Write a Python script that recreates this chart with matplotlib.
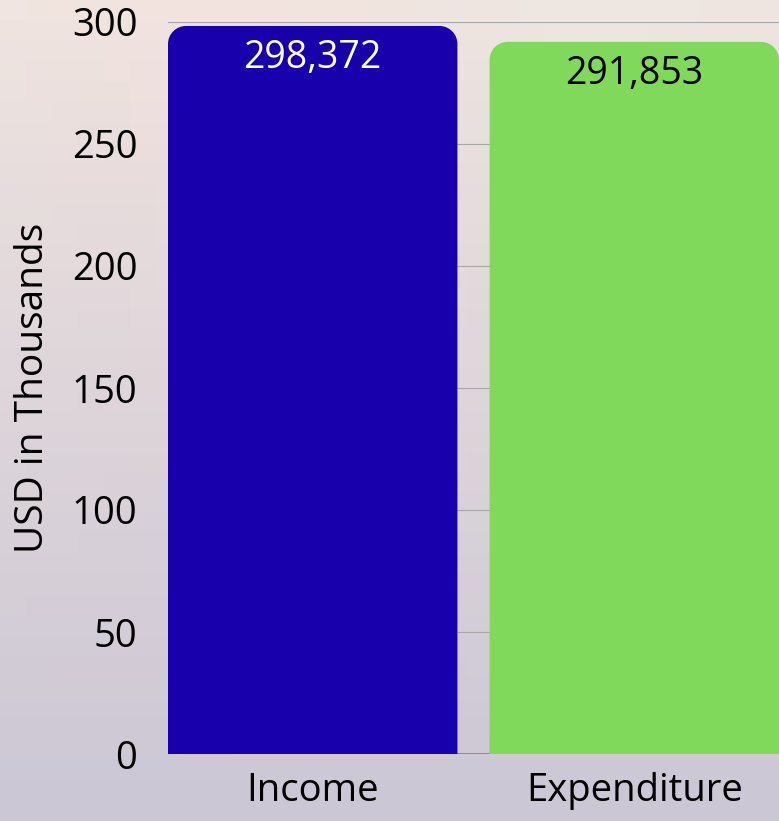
import matplotlib
matplotlib.use("Agg")
import matplotlib.pyplot as plt
import numpy as np
from matplotlib.path import Path
from matplotlib.patches import PathPatch

categories = ["Income", "Expenditure"]
values = [298.372, 291.853]
value_labels = ["298,372", "291,853"]
bar_colors = ["#1800ac", "#80d95a"]
label_colors = ["white", "black"]
yticks = [0, 50, 100, 150, 200, 250, 300]

plt.rcParams['font.family'] = ['Open Sans', 'DejaVu Sans']

W, H = 779, 821
fig = plt.figure(figsize=(W / 100, H / 100), dpi=100)

# background gradient
bg = fig.add_axes([0, 0, 1, 1], zorder=-10)
ny, nx = 40, 30
yy = np.linspace(0, 1, ny)[:, None]
xx = np.linspace(0, 1, nx)[None, :]
top = np.array([240, 229, 224]) / 255
bot = np.array([204, 199, 213]) / 255
t = np.clip(yy ** 0.9, 0, 1)
img = top[None, None, :] * (1 - t[..., None]) + bot[None, None, :] * t[..., None]
img = img + (0.01 * np.sin(xx * 6.0))[..., None] * (1 - t[..., None]) * np.array([1, -0.5, -0.5])
img = np.clip(img, 0, 1)
bg.imshow(np.broadcast_to(img, (ny, nx, 3)), aspect='auto', interpolation='nearest',
          extent=[0, 1, 0, 1])
bg.axis('off')

left, right = 168 / W, 1.0
bottom, topy = (H - 754) / H, (H - 22) / H
ax = fig.add_axes([left, bottom, right - left, topy - bottom])
ax.patch.set_alpha(0)
x = np.arange(len(categories))
ax.set_xlim(-0.45, 1.45)
ax.set_ylim(0, 300)

bw = 0.9
xu = (1.9) / (W * (right - left))
yu = 300 / (754 - 22)
r = 18


def rounded_top_bar(xc, h, w):
    x0, x1 = xc - w / 2, xc + w / 2
    rx, ry = r * xu, r * yu
    k = 0.5523
    verts = [(x0, 0), (x0, h - ry),
             (x0, h - ry + k * ry), (x0 + rx - k * rx, h), (x0 + rx, h),
             (x1 - rx, h),
             (x1 - rx + k * rx, h), (x1, h - ry + k * ry), (x1, h - ry),
             (x1, 0), (x0, 0)]
    codes = [Path.MOVETO, Path.LINETO,
             Path.CURVE4, Path.CURVE4, Path.CURVE4,
             Path.LINETO,
             Path.CURVE4, Path.CURVE4, Path.CURVE4,
             Path.LINETO, Path.CLOSEPOLY]
    return Path(verts, codes)


for i, (v, c) in enumerate(zip(values, bar_colors)):
    p = PathPatch(rounded_top_bar(x[i], v, bw), facecolor=c, edgecolor='none', zorder=3)
    ax.add_patch(p)
    ax.annotate(value_labels[i], (x[i], v), xytext=(0, -32), textcoords='offset pixels',
                ha='center', va='center', fontsize=27, color=label_colors[i], zorder=4)

ax.set_yticks(yticks)
ax.set_xticks(x)
ax.set_xticklabels(categories)
ax.tick_params(axis='both', length=0, labelsize=27.5)
ax.tick_params(axis='y', pad=22)
ax.tick_params(axis='x', pad=13)
ax.grid(axis='y', color='#a8a8a8', linewidth=0.8, zorder=0)
ax.set_axisbelow(True)
for s in ax.spines.values():
    s.set_visible(False)
ax.axhline(0, color='#808080', linewidth=1.2, zorder=1)
ax.set_ylabel("USD in Thousands", fontsize=28, labelpad=14)

fig.savefig("out.png", dpi=100)
